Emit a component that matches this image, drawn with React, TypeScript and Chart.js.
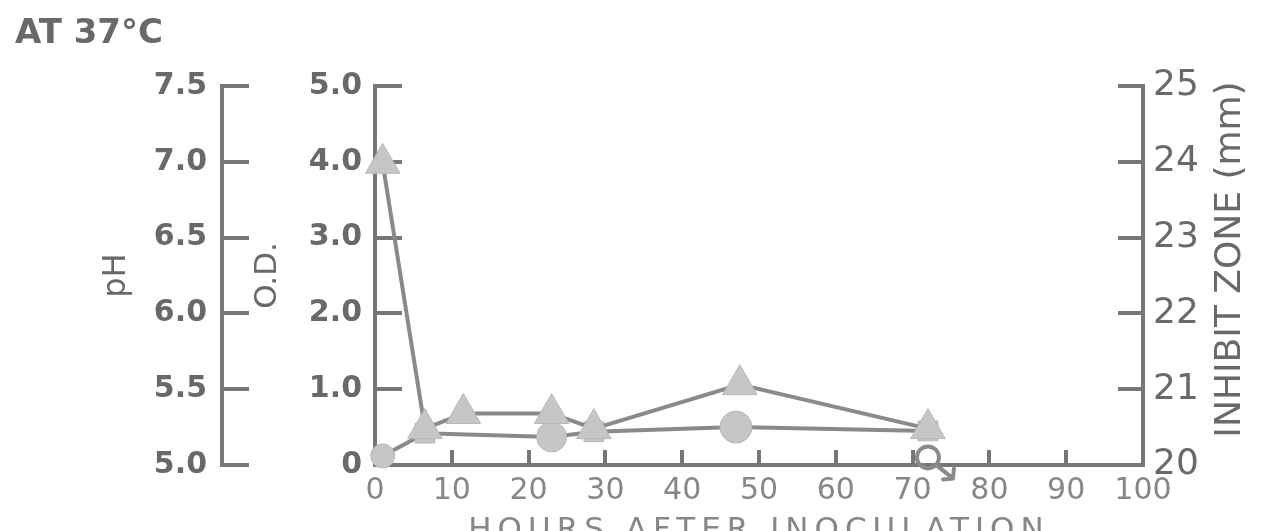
import React, { useEffect, useRef } from 'react';
import { Chart, registerables } from 'chart.js';

Chart.register(...registerables);

// ---------- text ----------
const CHART_TITLE = 'AT 37°C';
const X_TITLE = 'HOURS AFTER INOCULATION';
const PH_TITLE = 'pH';
const OD_TITLE = 'O.D.';
const IZ_TITLE = 'INHIBIT ZONE (mm)';

// ---------- data ----------
// pH (triangles)
const phHours = [1, 6.5, 11.5, 23, 28.5, 47.5, 72];
const phValues = [6.99, 5.24, 5.34, 5.34, 5.24, 5.53, 5.24];

// O.D. (circles / squares)
const odHours = [1, 6.5, 23, 28.5, 47, 72];
const odValues = [0.12, 0.42, 0.37, 0.44, 0.5, 0.45];
const odStyles = ['circle', 'rect', 'circle', 'rect', 'circle', 'rect'];
const odRadii = [12, 14, 15, 14, 16, 14];

// Inhibit zone (open circle, below scale)
const izHours = [72];
const izValues = [20.1];

// ---------- ticks ----------
const xTicks = [0, 10, 20, 30, 40, 50, 60, 70, 80, 90, 100];
const xTickLabels = ['0', '10', '20', '30', '40', '50', '60', '70', '80', '90', '100'];
const phTicks = [5.0, 5.5, 6.0, 6.5, 7.0, 7.5];
const phTickLabels = ['5.0', '5.5', '6.0', '6.5', '7.0', '7.5'];
const odTicks = [0, 1, 2, 3, 4, 5];
const odTickLabels = ['0', '1.0', '2.0', '3.0', '4.0', '5.0'];
const izTicks = [20, 21, 22, 23, 24, 25];
const izTickLabels = ['20', '21', '22', '23', '24', '25'];

// ---------- styles ----------
const FONT = '"DejaVu Sans", "Liberation Sans", sans-serif';
const AXIS = '#777777';
const LINE = '#8a8a8a';
const FILL = '#c6c6c6';
const TEXT_DARK = '#696969';
const TEXT_LIGHT = '#878787';

const setTicks = (values: number[]) => (scale: any) => {
  scale.ticks = values.map((v) => ({ value: v }));
};

const annotations = {
  id: 'annotations',
  afterDraw(chart: any) {
    const ctx = chart.ctx;
    const s = chart.scales.yIZ;
    ctx.save();
    ctx.font = `36px ${FONT}`;
    ctx.fillStyle = TEXT_DARK;
    ctx.textAlign = 'center';
    ctx.textBaseline = 'middle';
    ctx.translate(s.left + 88, (s.top + s.bottom) / 2 - 16);
    ctx.rotate(-Math.PI / 2);
    ctx.fillText(IZ_TITLE, 0, 0);
    ctx.restore();

    // arrow from the "below scale" inhibit-zone point
    const meta = chart.getDatasetMeta(2);
    const p = meta.data[0];
    if (p) {
      ctx.save();
      ctx.strokeStyle = LINE;
      ctx.lineWidth = 4;
      ctx.lineCap = 'round';
      const x0 = p.x + 10;
      const y0 = p.y + 9;
      const x1 = p.x + 25;
      const y1 = p.y + 21;
      ctx.beginPath();
      ctx.moveTo(x0, y0);
      ctx.lineTo(x1, y1);
      ctx.moveTo(x1, y1);
      ctx.lineTo(x1 + 1, y1 - 10);
      ctx.moveTo(x1, y1);
      ctx.lineTo(x1 - 10, y1 + 1);
      ctx.stroke();
      ctx.restore();
    }
  },
};

export default function App() {
  const ref = useRef<HTMLCanvasElement | null>(null);

  useEffect(() => {
    if (!ref.current) return;
    const yGrid = (len: number) => ({
      display: true,
      drawOnChartArea: false,
      drawTicks: true,
      tickLength: len,
      lineWidth: 4,
      tickWidth: 4,
      color: AXIS,
      tickColor: AXIS,
    });
    const border = { display: true, width: 4, color: AXIS };

    const chart = new Chart(ref.current, {
      type: 'line',
      data: {
        datasets: [
          {
            label: 'pH',
            yAxisID: 'yPH',
            data: phHours.map((h, i) => ({ x: h, y: phValues[i] })),
            borderColor: LINE,
            borderWidth: 4,
            backgroundColor: FILL,
            pointStyle: 'triangle',
            pointRadius: 20,
            pointBackgroundColor: FILL,
            pointBorderColor: '#b8b8b8',
            pointBorderWidth: 1,
            tension: 0,
            clip: false,
          } as any,
          {
            label: 'O.D.',
            yAxisID: 'yOD',
            data: odHours.map((h, i) => ({ x: h, y: odValues[i] })),
            borderColor: LINE,
            borderWidth: 4,
            backgroundColor: FILL,
            pointStyle: odStyles as any,
            pointRadius: odRadii,
            pointBackgroundColor: FILL,
            pointBorderColor: '#b8b8b8',
            pointBorderWidth: 1,
            tension: 0,
            clip: false,
          } as any,
          {
            label: 'Inhibit zone',
            yAxisID: 'yIZ',
            data: izHours.map((h, i) => ({ x: h, y: izValues[i] })),
            showLine: false,
            pointStyle: 'circle',
            pointRadius: 11,
            pointBackgroundColor: 'rgba(255,255,255,0)',
            pointBorderColor: LINE,
            pointBorderWidth: 4,
            clip: false,
          } as any,
        ],
      },
      options: {
        animation: false,
        responsive: false,
        events: [],
        layout: { padding: { left: 15, right: 0, top: 0, bottom: 0 } },
        plugins: {
          legend: { display: false },
          tooltip: { enabled: false },
          title: {
            display: true,
            text: CHART_TITLE,
            align: 'start',
            color: TEXT_DARK,
            font: { family: FONT, size: 34, weight: 'bold', lineHeight: 1.2 },
            padding: { top: 13.6, bottom: 31.6 },
          },
        },
        scales: {
          x: {
            type: 'linear',
            position: 'bottom',
            min: 0,
            max: 100,
            afterBuildTicks: setTicks(xTicks),
            afterFit: (s: any) => {
              s.height = 66;
              if (!s.__spaced) {
                const orig = s.drawTitle.bind(s);
                s.drawTitle = () => {
                  const c = s.ctx;
                  c.save();
                  c.letterSpacing = '6px';
                  orig();
                  c.restore();
                };
                s.__spaced = true;
              }
            },
            grid: { ...yGrid(-15) },
            border,
            ticks: {
              autoSkip: false,
              maxRotation: 0,
              padding: 23,
              color: TEXT_LIGHT,
              font: { family: FONT, size: 30, lineHeight: 1.2 },
              callback: (_v: any, i: number) => xTickLabels[i],
            },
            title: {
              display: true,
              text: X_TITLE,
              color: TEXT_LIGHT,
              font: { family: FONT, size: 31, lineHeight: 1.2 },
              padding: { top: 0, bottom: -18.6 },
            },
          },
          yOD: {
            type: 'linear',
            position: 'left',
            weight: 1,
            min: 0,
            max: 5,
            afterBuildTicks: setTicks(odTicks),
            afterFit: (s: any) => {
              s.width = 153;
            },
            grid: yGrid(-27),
            border,
            ticks: {
              autoSkip: false,
              padding: 40,
              color: TEXT_DARK,
              font: { family: FONT, size: 30, weight: 'bold', lineHeight: 1.2 },
              callback: (_v: any, i: number) => odTickLabels[i],
            },
            title: {
              display: true,
              text: OD_TITLE,
              color: TEXT_DARK,
              font: { family: FONT, size: 31, lineHeight: 1.2 },
              padding: { top: 27, bottom: 0 },
            },
          },
          yPH: {
            type: 'linear',
            position: 'left',
            weight: 2,
            min: 5,
            max: 7.5,
            afterBuildTicks: setTicks(phTicks),
            afterFit: (s: any) => {
              s.width = 207;
            },
            grid: yGrid(-27),
            border,
            ticks: {
              autoSkip: false,
              padding: 42,
              color: TEXT_DARK,
              font: { family: FONT, size: 30, weight: 'bold', lineHeight: 1.2 },
              callback: (_v: any, i: number) => phTickLabels[i],
            },
            title: {
              display: true,
              text: PH_TITLE,
              color: TEXT_DARK,
              font: { family: FONT, size: 32, lineHeight: 1.2 },
              padding: { top: 82, bottom: 0 },
            },
          },
          yIZ: {
            type: 'linear',
            position: 'right',
            min: 20,
            max: 25,
            afterBuildTicks: setTicks(izTicks),
            afterFit: (s: any) => {
              s.width = 120;
            },
            grid: yGrid(-25),
            border,
            ticks: {
              autoSkip: false,
              padding: 35,
              color: TEXT_DARK,
              font: { family: FONT, size: 36, lineHeight: 1.2 },
              callback: (_v: any, i: number) => izTickLabels[i],
            },
            title: { display: false },
          },
        },
      } as any,
      plugins: [annotations],
    });
    return () => chart.destroy();
  }, []);

  return (
    <div
      style={{
        position: 'fixed',
        left: 0,
        top: 0,
        width: 1263,
        height: 531,
        background: '#ffffff',
        overflow: 'hidden',
      }}
    >
      <canvas ref={ref} width={1263} height={531} style={{ width: 1263, height: 531, display: 'block' }} />
    </div>
  );
}
